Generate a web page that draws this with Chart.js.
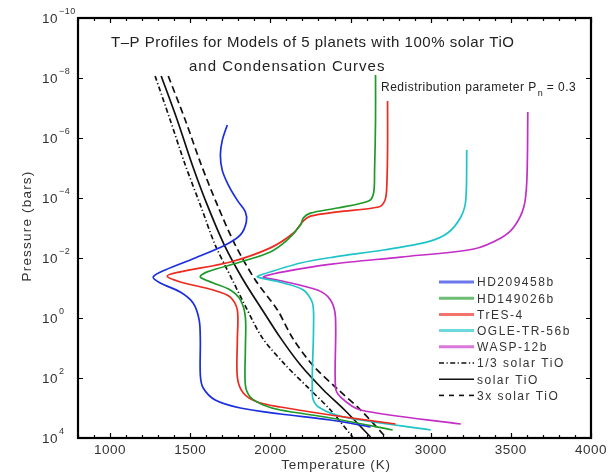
<!DOCTYPE html>
<html>
<head>
<meta charset="utf-8">
<script src="https://cdn.jsdelivr.net/npm/chart.js@4.4.0/dist/chart.umd.min.js"></script>
<style>
  body { margin: 0; background: #fff; }
  #wrap { width: 610px; height: 476px; }
</style>
</head>
<body>
<div id="wrap"><canvas id="chart" width="610" height="476"></canvas></div>
<script>
// Temperature (K) / pressure (bars) profiles
const hd209458T = [1731, 1700, 1688, 1700, 1738, 1794, 1844, 1850, 1813, 1719, 1531, 1344, 1269, 1313, 1438, 1519, 1556, 1563, 1563, 1581, 1656, 1813, 2063, 2375, 2625];
const hd209458P = [3.7e-7, 1.2e-6, 3.7e-6, 1.2e-5, 3.7e-5, 1.2e-4, 2.9e-4, 6.3e-4, 1.7e-3, 3.7e-3, 1.0e-2, 2.5e-2, 4.3e-2, 6.8e-2, 0.136, 0.32, 1.17, 5.4, 79, 215, 541, 1000, 1585, 2512, 4300];

const hd149026T = [2656, 2656, 2650, 2644, 2613, 2419, 2250, 2206, 2188, 2106, 2000, 1813, 1606, 1563, 1644, 1750, 1813, 1844, 1844, 1844, 1875, 1956, 2063, 2375, 2763];
const hd149026P = [7.9e-9, 2.5e-7, 1.2e-5, 6.8e-5, 1.26e-4, 2.15e-4, 3.2e-4, 4.6e-4, 7.9e-4, 2.5e-3, 6.3e-3, 1.36e-2, 2.9e-2, 4.3e-2, 6.8e-2, 0.117, 0.25, 0.93, 11.7, 171, 430, 794, 1166, 2154, 5412];

const tres4T = [2731, 2731, 2725, 2713, 2675, 2419, 2250, 2206, 2144, 2000, 1750, 1438, 1356, 1438, 1644, 1750, 1794, 1794, 1794, 1831, 1919, 2063, 2375, 2781];
const tres4P = [5.8e-8, 2.5e-6, 5.4e-5, 1.26e-4, 2.0e-4, 2.9e-4, 4.0e-4, 5.8e-4, 1.47e-3, 4.6e-3, 1.36e-2, 2.9e-2, 4.0e-2, 6.3e-2, 0.117, 0.2, 0.54, 5.4, 93, 316, 631, 927, 1711, 3415];

const ogle56T = [3225, 3219, 3188, 3106, 2981, 2706, 2394, 2188, 1938, 1919, 2081, 2206, 2263, 2269, 2263, 2300, 2456, 3000];
const ogle56P = [2.5e-6, 1.17e-4, 4.3e-4, 1.47e-3, 2.9e-3, 5.4e-3, 9.3e-3, 1.47e-2, 3.7e-2, 4.3e-2, 6.8e-2, 0.117, 0.32, 2.5, 430, 927, 1995, 5412];

const wasp12T = [3606, 3600, 3581, 3519, 3438, 3269, 2813, 2394, 2081, 1956, 2044, 2294, 2375, 2406, 2406, 2438, 2563, 3188];
const wasp12P = [1.36e-7, 2.5e-5, 2.0e-4, 9.3e-4, 2.15e-3, 5.0e-3, 9.3e-3, 1.58e-2, 2.9e-2, 4.3e-2, 5.4e-2, 0.117, 0.25, 0.93, 200, 430, 1166, 3415];

// TiO condensation curves
const condP = [8.6e-9, 2.5e-7, 7.9e-6, 1.7e-4, 3.7e-3, 5.4e-2, 0.54, 4.6, 37, 251, 1166, 9261];
const thirdSolarT = [1281, 1375, 1469, 1563, 1656, 1763, 1856, 1950, 2094, 2250, 2375, 2513];
const solarT = [1319, 1419, 1513, 1606, 1713, 1831, 1950, 2063, 2188, 2331, 2463, 2625];
const tripleSolarT = [1363, 1469, 1569, 1669, 1781, 1906, 2044, 2138, 2263, 2425, 2563, 2719];

const tempTicks = [1000, 1500, 2000, 2500, 3000, 3500, 4000];
const pressureTicks = [1e-10, 1e-8, 1e-6, 1e-4, 1e-2, 1, 1e2, 1e4];

const FONT = '"Liberation Sans", Arial, sans-serif';

function pts(T, P) {
  return T.map((t, i) => ({ x: t, y: P[i] }));
}

function series(label, T, P, color, dash) {
  return {
    label: label,
    data: pts(T, P),
    borderColor: color,
    borderWidth: 1.7,
    borderDash: dash || [],
    showLine: true,
    pointRadius: 0,
    tension: 0.3,
    fill: false
  };
}

const datasets = [
  series('HD209458b', hd209458T, hd209458P, '#1a2ee0'),
  series('HD149026b', hd149026T, hd149026P, '#1f9a2a'),
  series('TrES-4', tres4T, tres4P, '#ec2a1e'),
  series('OGLE-TR-56b', ogle56T, ogle56P, '#1ec4c8'),
  series('WASP-12b', wasp12T, wasp12P, '#c42ec8'),
  series('1/3 solar TiO', thirdSolarT, condP, '#111', [5, 2.5, 1.2, 2.5]),
  series('solar TiO', solarT, condP, '#111'),
  series('3x solar TiO', tripleSolarT, condP, '#111', [7, 4])
];

// axes box, inward ticks, labels, titles and the legend
const decor = {
  id: 'decor',
  afterDraw(chart) {
    const { ctx, chartArea: a, scales: { x, y } } = chart;
    ctx.save();
    ctx.strokeStyle = '#000';
    ctx.fillStyle = '#000';

    // minor/major ticks on x (top and bottom)
    ctx.lineWidth = 1.2;
    for (let t = 800; t <= 4000; t += 100) {
      const px = Math.round(x.getPixelForValue(t)) + 0.5;
      const len = t % 500 === 0 ? 5 : 3;
      ctx.beginPath();
      ctx.moveTo(px, a.bottom); ctx.lineTo(px, a.bottom - len);
      ctx.moveTo(px, a.top); ctx.lineTo(px, a.top + len);
      ctx.stroke();
    }
    // major ticks on y (left and right)
    pressureTicks.forEach(v => {
      const py = Math.round(y.getPixelForValue(v)) + 0.5;
      ctx.beginPath();
      ctx.moveTo(a.left, py); ctx.lineTo(a.left + 5, py);
      ctx.moveTo(a.right, py); ctx.lineTo(a.right - 5, py);
      ctx.stroke();
    });

    ctx.lineWidth = 2.2;
    ctx.strokeRect(a.left, a.top, a.width, a.height);

    // x tick labels
    ctx.font = '13.5px ' + FONT;
    ctx.fillStyle = '#333';
    ctx.textAlign = 'center';
    ctx.textBaseline = 'middle';
    ctx.letterSpacing = '0.5px';
    tempTicks.forEach(t => {
      ctx.fillText(String(t), x.getPixelForValue(t), a.bottom + 12);
    });

    // y tick labels as 10 with a raised exponent
    pressureTicks.forEach(v => {
      const py = y.getPixelForValue(v);
      const e = Math.round(Math.log10(v));
      ctx.font = '13.5px ' + FONT;
      ctx.textAlign = 'right';
      ctx.fillText('10', a.left - 20, py + 1);
      ctx.font = '9px ' + FONT;
      ctx.textAlign = 'left';
      ctx.fillText(e < 0 ? '\u2212' + (-e) : String(e), a.left - 19, py - 6);
    });

    // axis titles
    ctx.font = '13.5px ' + FONT;
    ctx.textAlign = 'center';
    ctx.letterSpacing = '0.8px';
    ctx.fillText('Temperature (K)', 336, 465);
    ctx.save();
    ctx.translate(27, 226);
    ctx.rotate(-Math.PI / 2);
    ctx.letterSpacing = '1.2px';
    ctx.fillText('Pressure (bars)', 0, 0);
    ctx.restore();

    // plot title inside the axes
    ctx.font = '15px ' + FONT;
    ctx.textAlign = 'left';
    ctx.fillStyle = '#222';
    ctx.letterSpacing = '0.5px';
    ctx.fillText('T\u2013P Profiles for Models of 5 planets with 100% solar TiO', 111, 43);
    ctx.letterSpacing = '1px';
    ctx.fillText('and Condensation Curves', 189, 67);

    // redistribution note
    ctx.font = '12px ' + FONT;
    ctx.letterSpacing = '0.5px';
    ctx.fillText('Redistribution parameter P', 381, 88);
    let w = ctx.measureText('Redistribution parameter P').width;
    ctx.font = '9px ' + FONT;
    ctx.fillText('n', 381 + w + 1, 94);
    ctx.font = '12px ' + FONT;
    ctx.fillText('= 0.3', 381 + w + 10, 88);

    // legend
    ctx.letterSpacing = '1.5px';
    chart.data.datasets.forEach((ds, i) => {
      const ly = 282 + i * 16.2;
      const planet = i < 5;
      ctx.save();
      ctx.strokeStyle = ds.borderColor;
      ctx.globalAlpha = planet ? 0.65 : 1;
      ctx.lineWidth = planet ? 3 : 1.6;
      ctx.setLineDash(planet ? [] : (i === 7 ? [5, 5] : ds.borderDash));
      ctx.beginPath();
      ctx.moveTo(439, ly); ctx.lineTo(474, ly);
      ctx.stroke();
      ctx.restore();
      ctx.font = '12px ' + FONT;
      ctx.fillStyle = '#333';
      ctx.textAlign = 'left';
      ctx.fillText(ds.label, 477, ly + 1);
    });

    ctx.restore();
  }
};

new Chart(document.getElementById('chart'), {
  type: 'scatter',
  data: { datasets: datasets },
  options: {
    responsive: false,
    animation: false,
    layout: { padding: { left: 78, right: 19, top: 18, bottom: 38 } },
    plugins: { legend: { display: false }, tooltip: { enabled: false } },
    scales: {
      x: { type: 'linear', display: false, min: 800, max: 4000 },
      y: { type: 'logarithmic', display: false, reverse: true, min: 1e-10, max: 1e4 }
    }
  },
  plugins: [decor]
});
</script>
</body>
</html>
